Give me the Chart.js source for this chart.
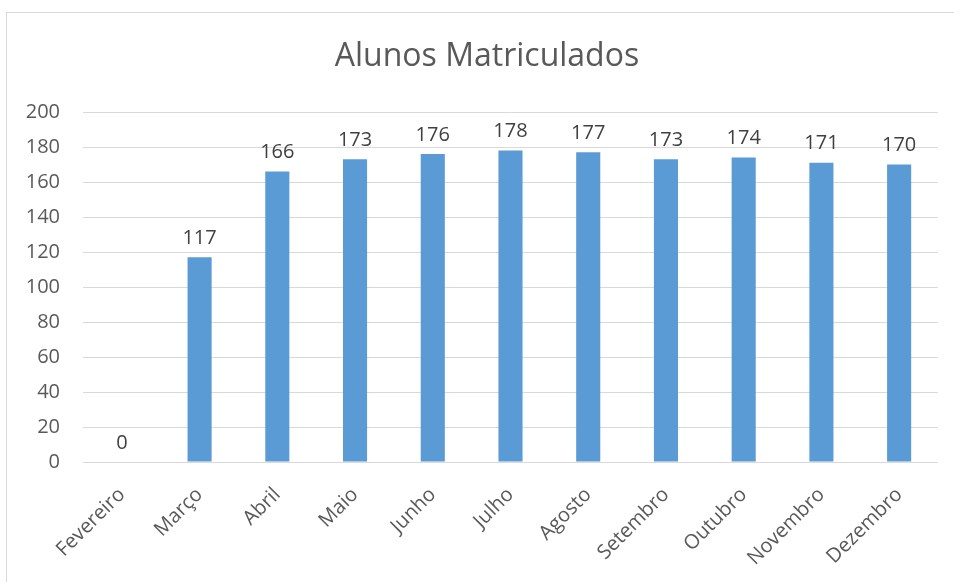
<!DOCTYPE html>
<html lang="pt">
<head>
    <meta charset="UTF-8">
    <title>Alunos Matriculados</title>
    <style>
        html, body {
            margin: 0;
            padding: 0;
            background: #ffffff;
        }
        #wrap {
            position: relative;
            width: 954px;
            height: 582px;
        }
    </style>
</head>
<body>
    <div id="wrap">
        <canvas id="chart" width="954" height="582"></canvas>
    </div>

    <script src="https://cdn.jsdelivr.net/npm/chart.js"></script>
    <script>
        // Data
        const meses = ['Fevereiro', 'Março', 'Abril', 'Maio', 'Junho', 'Julho', 'Agosto', 'Setembro', 'Outubro', 'Novembro', 'Dezembro'];
        const alunos = [0, 117, 166, 173, 176, 178, 177, 173, 174, 171, 170];
        const yTicks = [0, 20, 40, 60, 80, 100, 120, 140, 160, 180, 200];
        const titulo = 'Alunos Matriculados';

        const fontFamily = "'Open Sans', sans-serif";

        // chart frame (only top and left edges are visible in the picture)
        // and the title, centred on the frame rather than on the canvas
        const framePlugin = {
            id: 'frame',
            beforeDraw(chart) {
                const ctx = chart.ctx;
                ctx.save();
                ctx.strokeStyle = '#d9d9d9';
                ctx.lineWidth = 1;
                ctx.strokeRect(6.5, 12.5, 970, 600);
                ctx.font = '32px ' + fontFamily;
                ctx.fillStyle = '#595959';
                ctx.textAlign = 'center';
                ctx.textBaseline = 'middle';
                ctx.fillText(titulo, 487, 57);
                ctx.restore();
            }
        };

        // value labels above the bars
        const valueLabels = {
            id: 'valueLabels',
            afterDatasetsDraw(chart) {
                const ctx = chart.ctx;
                const meta = chart.getDatasetMeta(0);
                ctx.save();
                ctx.font = '20px ' + fontFamily;
                ctx.fillStyle = '#404040';
                ctx.textAlign = 'center';
                ctx.textBaseline = 'bottom';
                meta.data.forEach(function(bar, i) {
                    ctx.fillText(String(alunos[i]), bar.x, bar.y - 9);
                });
                ctx.restore();
            }
        };

        new Chart(document.getElementById('chart').getContext('2d'), {
            type: 'bar',
            data: {
                labels: meses,
                datasets: [{
                    label: titulo,
                    data: alunos,
                    backgroundColor: '#5b9bd5',
                    borderWidth: 0,
                    categoryPercentage: 1,
                    barPercentage: 0.31
                }]
            },
            options: {
                responsive: false,
                animation: false,
                layout: {
                    padding: { left: 0, right: 16, top: 112, bottom: 0 }
                },
                plugins: {
                    legend: { display: false },
                    tooltip: { enabled: false },
                    title: { display: false }
                },
                scales: {
                    y: {
                        min: 0,
                        max: 200,
                        afterBuildTicks(scale) {
                            scale.ticks = yTicks.map(v => ({ value: v }));
                        },
                        afterFit(scale) {
                            scale.width = 83;
                        },
                        border: { display: false },
                        grid: {
                            color: '#d9d9d9',
                            lineWidth: 1,
                            drawTicks: false
                        },
                        ticks: {
                            color: '#595959',
                            padding: 23,
                            font: { family: fontFamily, size: 20 }
                        }
                    },
                    x: {
                        afterFit(scale) {
                            scale.height = 120;
                        },
                        border: { display: false },
                        grid: { display: false },
                        ticks: {
                            color: '#595959',
                            minRotation: 45,
                            maxRotation: 45,
                            padding: 13,
                            font: { family: fontFamily, size: 20 }
                        }
                    }
                }
            },
            plugins: [framePlugin, valueLabels]
        });
    </script>
</body>
</html>
